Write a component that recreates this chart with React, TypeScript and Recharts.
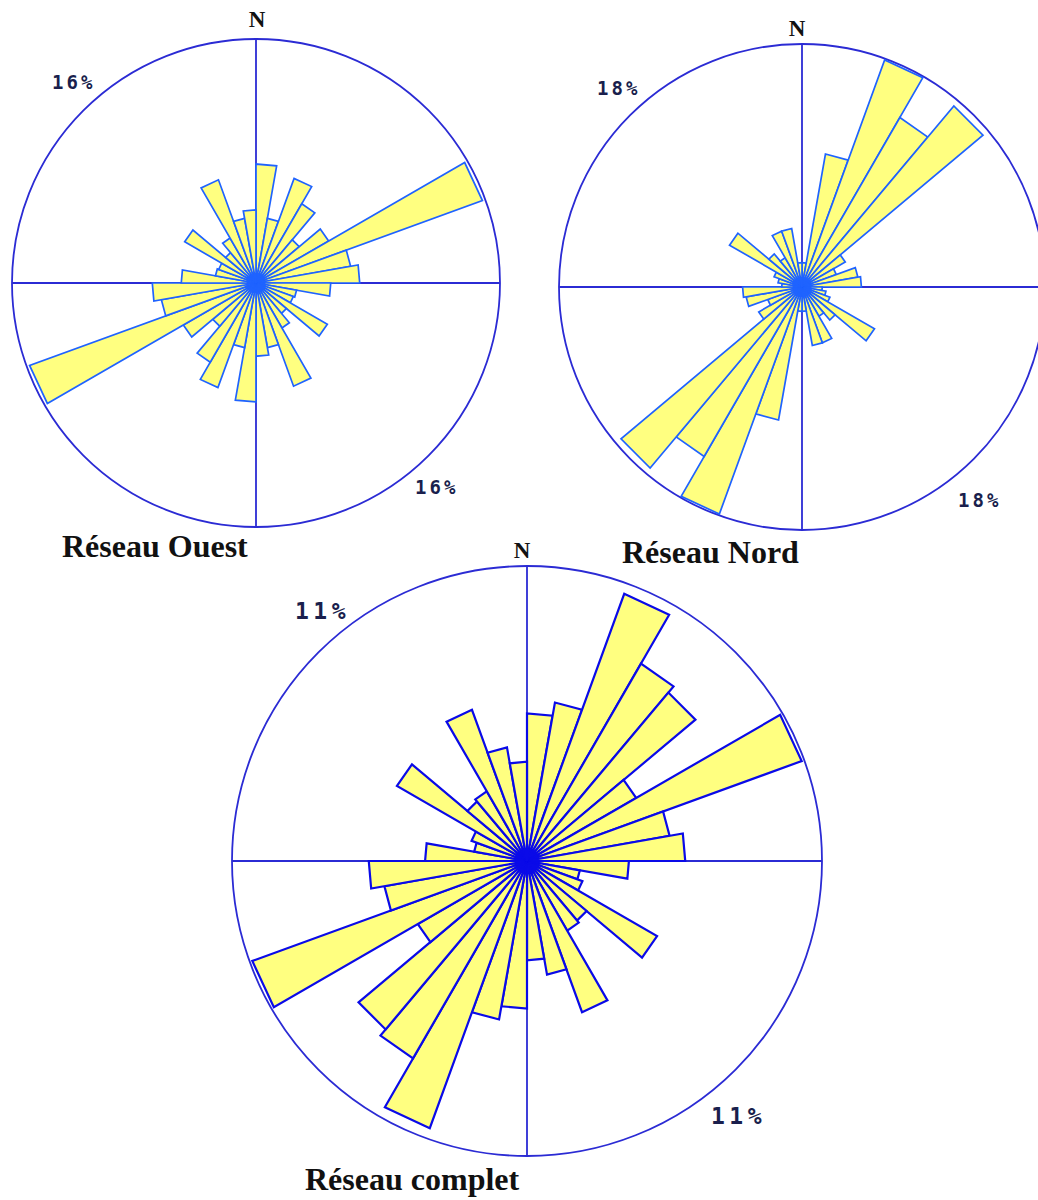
import React from "react";
import {
  PolarAngleAxis,
  PolarGrid,
  PolarRadiusAxis,
  RadialBar,
  RadialBarChart,
} from "recharts";

// 10° direction classes, clockwise from north
const bins = [
  "0", "10", "20", "30", "40", "50", "60", "70", "80",
  "90", "100", "110", "120", "130", "140", "150", "160", "170",
  "180", "190", "200", "210", "220", "230", "240", "250", "260",
  "270", "280", "290", "300", "310", "320", "330", "340", "350",
];

// frequencies in % (bidirectional rose, opposite classes equal)
const ouestValues = [
  7.8, 4.3, 7.3, 6.0, 3.7, 5.5, 15.8, 6.3, 6.8,
  4.9, 2.7, 2.6, 5.4, 2.6, 3.4, 7.2, 4.3, 4.8,
  7.8, 4.3, 7.3, 6.0, 3.7, 5.5, 15.8, 6.3, 6.8,
  4.9, 2.7, 2.6, 5.4, 2.6, 3.4, 7.2, 4.3, 4.8,
];

const nordValues = [
  1.8, 10.0, 17.9, 14.5, 17.5, 3.7, 2.7, 4.2, 4.4,
  1.5, 1.8, 2.2, 6.2, 3.2, 2.5, 4.4, 4.4, 1.8,
  1.8, 10.0, 17.9, 14.5, 17.5, 3.7, 2.7, 4.2, 4.4,
  1.5, 1.8, 2.2, 6.2, 3.2, 2.5, 4.4, 4.4, 1.8,
];

const completValues = [
  5.5, 6.0, 10.6, 8.5, 8.2, 4.7, 10.9, 5.4, 5.9,
  3.8, 2.0, 2.2, 5.6, 2.9, 3.0, 6.0, 4.3, 3.7,
  5.5, 6.0, 10.6, 8.5, 8.2, 4.7, 10.9, 5.4, 5.9,
  3.8, 2.0, 2.2, 5.6, 2.9, 3.0, 6.0, 4.3, 3.7,
];

const RAD = Math.PI / 180;

// straight-edged wedge instead of an arc sector
function Wedge(props: any) {
  const { cx, cy, outerRadius, startAngle, endAngle, stroke, strokeWidth } = props;
  const x1 = cx + outerRadius * Math.cos(-startAngle * RAD);
  const y1 = cy + outerRadius * Math.sin(-startAngle * RAD);
  const x2 = cx + outerRadius * Math.cos(-endAngle * RAD);
  const y2 = cy + outerRadius * Math.sin(-endAngle * RAD);
  return (
    <path
      d={`M${cx},${cy}L${x1},${y1}L${x2},${y2}Z`}
      fill="#ffff80"
      stroke={stroke}
      strokeWidth={strokeWidth}
      strokeLinejoin="miter"
    />
  );
}

type RoseProps = {
  values: number[];
  max: number;
  width: number;
  height: number;
  cx: number;
  cy: number;
  radius: number;
  barStroke: string;
  barWidth: number;
};

function Rose({ values, max, width, height, cx, cy, radius, barStroke, barWidth }: RoseProps) {
  const data = bins.map((bin, i) => ({ bin, value: values[i] }));
  return (
    <RadialBarChart
      width={width}
      height={height}
      data={data}
      cx={cx}
      cy={cy}
      innerRadius={0}
      outerRadius={radius}
      startAngle={80}
      endAngle={-280}
      layout="centric"
      barCategoryGap={0}
      margin={{ top: 0, right: 0, bottom: 0, left: 0 }}
    >
      <PolarGrid
        gridType="circle"
        polarAngles={[0, 90, 180, 270]}
        polarRadius={[radius]}
        stroke="#2b2bd4"
        strokeWidth={1.8}
      />
      <PolarAngleAxis type="category" dataKey="bin" tick={false} tickLine={false} axisLine={false} />
      <PolarRadiusAxis type="number" domain={[0, max]} tick={false} axisLine={false} />
      <RadialBar
        dataKey="value"
        isAnimationActive={false}
        fill="#ffff80"
        stroke={barStroke}
        shape={(p: any) => <Wedge {...p} stroke={barStroke} strokeWidth={barWidth} />}
      />
    </RadialBarChart>
  );
}

const serif = "'Liberation Serif', 'Times New Roman', serif";
const mono = "'DejaVu Sans Mono', monospace";

export default function App() {
  return (
    <div
      style={{
        position: "absolute",
        left: 0,
        top: 0,
        width: 1038,
        height: 1200,
        overflow: "hidden",
        background: "#ffffff",
      }}
    >
      <div style={{ position: "absolute", left: 0, top: 0 }}>
        <Rose values={ouestValues} max={16} width={520} height={540} cx={256} cy={283} radius={244} barStroke="#1f63ff" barWidth={1.7} />
      </div>
      <div style={{ position: "absolute", left: 540, top: 0 }}>
        <Rose values={nordValues} max={18} width={520} height={540} cx={262} cy={287} radius={243} barStroke="#1f63ff" barWidth={1.7} />
      </div>
      <div style={{ position: "absolute", left: 220, top: 540 }}>
        <Rose values={completValues} max={11} width={620} height={640} cx={307} cy={321} radius={295} barStroke="#0a0ae8" barWidth={2.2} />
      </div>

      <svg
        width={1038}
        height={1200}
        style={{ position: "absolute", left: 0, top: 0, pointerEvents: "none" }}
      >
        <g fontFamily={serif} fontWeight="bold" fill="#111">
          <text x={257} y={27} fontSize={23} textAnchor="middle">N</text>
          <text x={797} y={36} fontSize={23} textAnchor="middle">N</text>
          <text x={522} y={558} fontSize={23} textAnchor="middle">N</text>
          <text x={62} y={557} fontSize={32}>Réseau Ouest</text>
          <text x={622} y={563} fontSize={32}>Réseau Nord</text>
          <text x={305} y={1190} fontSize={32}>Réseau complet</text>
        </g>
        <g fontFamily={mono} fontWeight="bold" fill="#1a1f4d">
          <text x={52} y={89} fontSize={19} letterSpacing={3}>16%</text>
          <text x={415} y={494} fontSize={19} letterSpacing={3}>16%</text>
          <text x={597} y={95} fontSize={19} letterSpacing={3}>18%</text>
          <text x={958} y={507} fontSize={19} letterSpacing={3}>18%</text>
          <text x={295} y={619} fontSize={23} letterSpacing={4.5}>11%</text>
          <text x={711} y={1124} fontSize={23} letterSpacing={4.5}>11%</text>
        </g>
      </svg>
    </div>
  );
}
